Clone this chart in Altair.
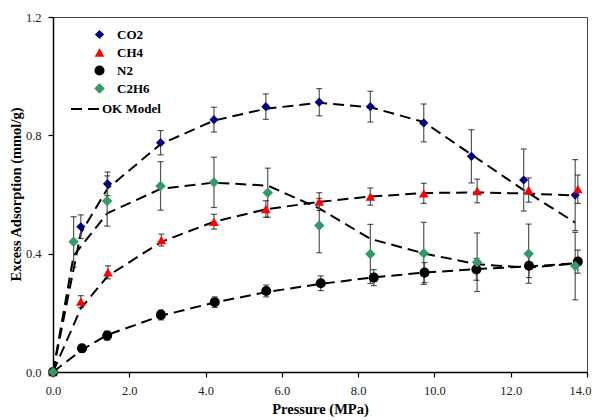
import altair as alt
import pandas as pd

gases = ["CO2", "CH4", "N2", "C2H6"]

co2_p = [0, 0.73, 1.43, 2.82, 4.22, 5.58, 6.98, 8.32, 9.72, 10.97, 12.34, 13.69]
co2_v = [0, 0.491, 0.636, 0.775, 0.853, 0.897, 0.912, 0.897, 0.842, 0.729, 0.649, 0.598]
co2_e = [0, 0.040, 0.040, 0.041, 0.042, 0.043, 0.046, 0.052, 0.064, 0.090, 0.105, 0.120]
co2_m = [0, 0.47, 0.62, 0.77, 0.85, 0.89, 0.91, 0.895, 0.845, 0.735, 0.615, 0.505]

ch4_p = [0, 0.73, 1.44, 2.84, 4.22, 5.58, 6.98, 8.32, 9.72, 11.12, 12.47, 13.76]
ch4_v = [0, 0.238, 0.337, 0.446, 0.508, 0.551, 0.576, 0.593, 0.604, 0.612, 0.615, 0.618]
ch4_e = [0, 0.020, 0.022, 0.020, 0.025, 0.028, 0.030, 0.029, 0.034, 0.040, 0.041, 0.048]
ch4_m = [0, 0.215, 0.325, 0.44, 0.508, 0.55, 0.575, 0.593, 0.605, 0.607, 0.603, 0.596]

n2_p = [0, 0.76, 1.42, 2.83, 4.24, 5.59, 7.02, 8.41, 9.74, 11.10, 12.48, 13.76]
n2_v = [0, 0.080, 0.123, 0.193, 0.236, 0.274, 0.300, 0.319, 0.336, 0.347, 0.359, 0.373]
n2_e = [0, 0.012, 0.015, 0.017, 0.018, 0.020, 0.025, 0.027, 0.034, 0.037, 0.040, 0.039]
n2_m = [0, 0.075, 0.125, 0.19, 0.235, 0.27, 0.298, 0.32, 0.336, 0.348, 0.357, 0.368]

c2h6_p = [0, 0.54, 1.42, 2.82, 4.22, 5.63, 6.98, 8.32, 9.72, 11.12, 12.47, 13.69]
c2h6_v = [0, 0.440, 0.578, 0.629, 0.641, 0.606, 0.495, 0.399, 0.401, 0.371, 0.400, 0.358]
c2h6_e = [0, 0.085, 0.085, 0.082, 0.085, 0.083, 0.092, 0.100, 0.105, 0.099, 0.100, 0.114]
c2h6_m = [0, 0.393, 0.536, 0.619, 0.640, 0.630, 0.553, 0.450, 0.401, 0.364, 0.353, 0.367]

x_ticks = [0, 2, 4, 6, 8, 10, 12, 14]
y_ticks = [0, 0.4, 0.8, 1.2]

series = {
    "CO2": (co2_p, co2_v, co2_e, co2_m),
    "CH4": (ch4_p, ch4_v, ch4_e, ch4_m),
    "N2": (n2_p, n2_v, n2_e, n2_m),
    "C2H6": (c2h6_p, c2h6_v, c2h6_e, c2h6_m),
}

rows = []
for i, g in enumerate(gases):
    P, V, E, M = series[g]
    for j, (p, v, e, m) in enumerate(zip(P, V, E, M)):
        rows.append(dict(gas=g, gi=i, idx=j, p=p, v=v, e=e, lo=v - e, hi=v + e,
                         model=m, label="OK Model"))
df = pd.DataFrame(rows)

FONT = "Liberation Serif"

x_enc = alt.X("p:Q", scale=alt.Scale(domain=[0, 14], nice=False),
              axis=alt.Axis(values=x_ticks, format=".1f", title="Pressure (MPa)",
                            titleY=37, titleBaseline="middle", labelFlush=False,
                            labelOffset={"condition": {"test": "datum.value >= 14", "value": -7},
                                         "value": 0}))
y_scale = alt.Scale(domain=[0, 1.2], nice=False)
y_axis = alt.Axis(values=y_ticks, format=".1f", title="Excess Adsorption (mmol/g)",
                  titleX=-37, titleY=177, titleAngle=270, titleAlign="center",
                  titleBaseline="middle", labelFlush=False)

base = alt.Chart(df)

err = base.transform_filter("datum.e > 0")
stems = err.mark_rule(color="#555", strokeWidth=1.2).encode(
    x=alt.X("p:Q"), y=alt.Y("lo:Q", scale=y_scale), y2="hi:Q")
caps_lo = err.mark_tick(color="#111", thickness=1.2, size=6, orient="horizontal").encode(
    x=alt.X("p:Q"), y=alt.Y("lo:Q", scale=y_scale))
caps_hi = err.mark_tick(color="#111", thickness=1.2, size=6, orient="horizontal").encode(
    x=alt.X("p:Q"), y=alt.Y("hi:Q", scale=y_scale))

lines = base.mark_line(color="black", strokeWidth=2).encode(
    x=x_enc,
    y=alt.Y("model:Q", scale=y_scale, axis=y_axis),
    detail="gas:N",
    order="idx:Q",
    strokeDash=alt.StrokeDash("label:N", scale=alt.Scale(domain=["OK Model"], range=[[11, 6]]),
                              legend=alt.Legend(orient="none", legendX=17, legendY=76, title=None,
                                                symbolType="stroke", symbolSize=900,
                                                symbolStrokeWidth=2, symbolStrokeColor="black",
                                                symbolDash=[12, 8], labelOffset=0)),
)

points = base.mark_point(filled=True, opacity=1, strokeWidth=0).encode(
    x=alt.X("p:Q"),
    y=alt.Y("v:Q", scale=y_scale),
    color=alt.Color("gas:N", scale=alt.Scale(domain=gases,
                                            range=["#000080", "#FF0000", "#000000", "#339966"]),
                    legend=alt.Legend(orient="none", legendX=22, legendY=11, title=None,
                                      labelOffset=11, symbolOffset=18, rowPadding=4,
                                      symbolSize=60)),
    shape=alt.Shape("gas:N", scale=alt.Scale(domain=gases,
                                            range=["diamond", "triangle-up", "circle", "diamond"])),
    size=alt.Size("gas:N", scale=alt.Scale(domain=gases, range=[85, 110, 90, 85]), legend=None),
    order="gi:Q",
)

chart = alt.layer(lines, stems, caps_lo, caps_hi, points).properties(
    width=534, height=355, autosize="none",
    padding={"left": 45, "top": 9, "right": 5, "bottom": 47},
).configure_view(stroke="#444", strokeWidth=1).configure_axis(
    grid=False, domainColor="black", domainWidth=1.5, tickColor="black", tickSize=5,
    tickWidth=1.2, labelFont=FONT, labelFontSize=12.5, labelColor="#222", labelPadding=7,
    titleFont=FONT, titleFontSize=14.5, titleFontWeight="bold", titleColor="black",
).configure_legend(
    labelFont=FONT, labelFontSize=13, labelFontWeight="bold", labelColor="black",
    padding=0, symbolStrokeWidth=0,
)

chart.save("out.html", embed_options={"renderer": "svg", "actions": False})
